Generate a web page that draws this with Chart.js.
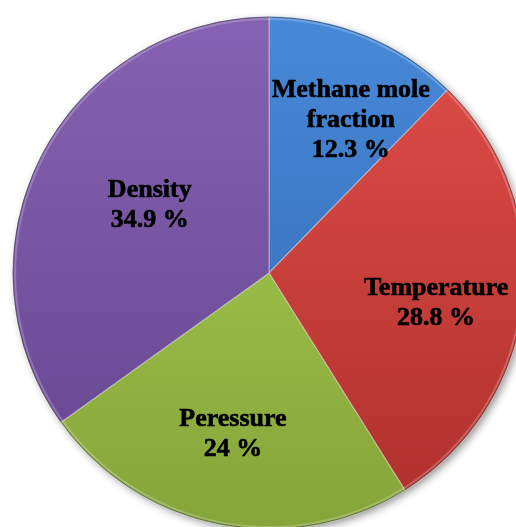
<!DOCTYPE html>
<html>
<head>
<meta charset="utf-8">
<script src="https://cdn.jsdelivr.net/npm/chart.js@4/dist/chart.umd.min.js"></script>
<style>
  html, body { margin: 0; padding: 0; background: #ffffff; overflow: hidden; }
  #wrap { position: absolute; left: 0; top: 0; width: 540px; height: 540px; }
</style>
</head>
<body>
<div id="wrap"><canvas id="pie"></canvas></div>
<script>
// Share of each parameter (percent)
const categories = ['Methane mole fraction', 'Temperature', 'Peressure', 'Density'];
const shares = [12.3, 28.8, 24, 34.9];
// Label text lines shown inside each slice
const labelLines = [
  ['Methane mole', 'fraction', '12.3 %'],
  ['Temperature', '28.8 %'],
  ['Peressure', '24 %'],
  ['Density', '34.9 %']
];

// Slice shading: lighter at the top of the pie, darker at the bottom
const sliceShades = [
  ['#4789d8', '#3266ae'],
  ['#e24e49', '#ad2f2c'],
  ['#acd252', '#85a43a'],
  ['#8663b2', '#63448e']
];

function sliceFill(ctx) {
  const chart = ctx.chart;
  const area = chart.chartArea;
  const shade = sliceShades[ctx.dataIndex % sliceShades.length];
  if (!area) return shade[0];
  const g = chart.ctx.createLinearGradient(0, area.top, 0, area.bottom);
  g.addColorStop(0, shade[0]);
  g.addColorStop(1, shade[1]);
  return g;
}

// Soft drop shadow under the whole pie and a thin dark rim around it
const pieShadow = {
  id: 'pieShadow',
  beforeDatasetsDraw(chart) {
    const arc = chart.getDatasetMeta(0).data[0];
    if (!arc) return;
    const { x, y, outerRadius } = arc.getProps(['x', 'y', 'outerRadius'], true);
    const c = chart.ctx;
    c.save();
    c.shadowColor = 'rgba(0,0,0,0.45)';
    c.shadowBlur = 8;
    c.shadowOffsetX = 3;
    c.shadowOffsetY = 3;
    c.beginPath();
    c.arc(x, y, outerRadius - 1, 0, Math.PI * 2);
    c.fillStyle = '#777777';
    c.fill();
    c.restore();
  },
  afterDatasetsDraw(chart) {
    const arc = chart.getDatasetMeta(0).data[0];
    if (!arc) return;
    const { x, y, outerRadius } = arc.getProps(['x', 'y', 'outerRadius'], true);
    const c = chart.ctx;
    c.save();
    c.beginPath();
    c.arc(x, y, outerRadius - 0.5, 0, Math.PI * 2);
    c.strokeStyle = 'rgba(60,60,60,0.55)';
    c.lineWidth = 1;
    c.stroke();
    c.beginPath();
    c.arc(x, y, outerRadius - 2.5, 0, Math.PI * 2);
    c.strokeStyle = 'rgba(255,255,255,0.22)';
    c.lineWidth = 2;
    c.stroke();
    c.restore();
  }
};

// Multi-line labels placed inside each slice
const sliceLabels = {
  id: 'sliceLabels',
  afterDatasetsDraw(chart, args, opts) {
    const meta = chart.getDatasetMeta(0);
    const c = chart.ctx;
    c.save();
    c.font = opts.font;
    c.fillStyle = opts.color;
    c.strokeStyle = opts.color;
    c.lineWidth = opts.weight;
    c.lineJoin = 'round';
    c.textAlign = 'center';
    c.textBaseline = 'alphabetic';
    meta.data.forEach((arc, i) => {
      const p = arc.getProps(['x', 'y', 'startAngle', 'endAngle', 'outerRadius'], true);
      const mid = (p.startAngle + p.endAngle) / 2 + opts.shift[i] * Math.PI / 180;
      const r = p.outerRadius * opts.radius[i];
      const cx = p.x + Math.cos(mid) * r;
      const cy = p.y + Math.sin(mid) * r;
      const lines = labelLines[i];
      const firstBase = cy + opts.capHeight / 2 - (lines.length - 1) * opts.lineHeight / 2;
      lines.forEach((t, k) => {
        const ty = firstBase + k * opts.lineHeight;
        c.fillText(t, cx, ty);
        c.strokeText(t, cx, ty);
      });
    });
    c.restore();
  }
};

new Chart(document.getElementById('pie'), {
  type: 'pie',
  data: {
    labels: categories,
    datasets: [{
      data: shares,
      backgroundColor: sliceFill,
      borderColor: 'rgba(255,255,255,0.35)',
      borderWidth: 1.2
    }]
  },
  options: {
    responsive: true,
    maintainAspectRatio: false,
    animation: false,
    layout: { padding: { left: 12, top: 16, right: 14, bottom: 10 } },
    plugins: {
      legend: { display: false },
      tooltip: { enabled: false },
      sliceLabels: {
        font: 'bold 26px "Liberation Serif", "Times New Roman", serif',
        color: '#000000',
        weight: 0.6,
        lineHeight: 30,
        capHeight: 17,
        radius: [0.681, 0.661, 0.636, 0.538],
        shift: [5.8, 3.5, 1.6, 3.0]
      }
    }
  },
  plugins: [pieShadow, sliceLabels]
});
</script>
</body>
</html>
